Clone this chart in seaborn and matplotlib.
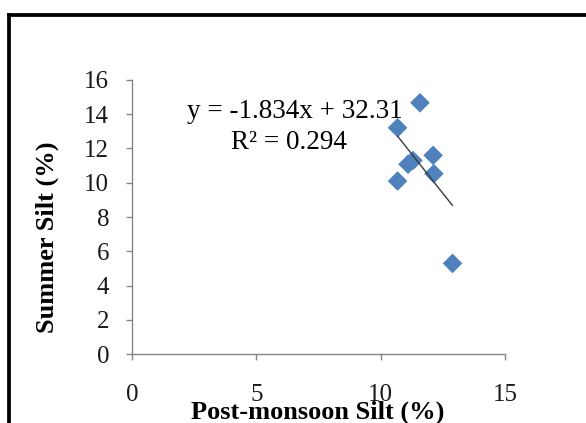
import matplotlib
matplotlib.use("Agg")
import matplotlib.pyplot as plt
from matplotlib.lines import Line2D
import seaborn as sns
import pandas as pd
import numpy as np

# Silt percentages per site
post_monsoon_silt = [11.58, 10.68, 11.30, 11.10, 12.11, 12.14, 10.68, 12.89]
summer_silt = [14.67, 13.21, 11.30, 11.08, 11.60, 10.53, 10.10, 5.29]

# Linear trend reported on the chart
slope = -1.834
intercept = 32.31
r_squared = 0.294

x_ticks = [0, 5, 10, 15]
y_ticks = [0, 2, 4, 6, 8, 10, 12, 14, 16]

sns.set_theme(style="white")
plt.rcParams["font.family"] = ["Liberation Serif", "DejaVu Serif"]

W, H, DPI = 586, 423, 100
fig = plt.figure(figsize=(W / DPI, H / DPI), dpi=DPI)
ax = fig.add_axes([132 / W, 1 - 354 / H, (505 - 132) / W, (354 - 80) / H])

df = pd.DataFrame({"post": post_monsoon_silt, "summer": summer_silt})
sns.scatterplot(data=df, x="post", y="summer", marker="D", s=100,
                color="#4F81BD", edgecolor="none", ax=ax, zorder=3)

xs = np.array([min(post_monsoon_silt), max(post_monsoon_silt)])
trend = pd.DataFrame({"x": xs, "y": slope * xs + intercept})
sns.lineplot(data=trend, x="x", y="y", color="#3a3a3a", linewidth=1.0,
             ax=ax, zorder=4)

ax.set_xlim(0, 15)
ax.set_ylim(0, 16)
ax.set_xticks(x_ticks)
ax.set_yticks(y_ticks)
ax.set_xticklabels([str(t) for t in x_ticks])
ax.set_yticklabels([str(t) for t in y_ticks])

grey = "#868686"
for side in ["top", "right"]:
    ax.spines[side].set_visible(False)
for side in ["left", "bottom"]:
    ax.spines[side].set_color(grey)
    ax.spines[side].set_linewidth(1.0)

ax.tick_params(axis="both", which="major", direction="out", length=4.5,
               width=1.0, color=grey, labelsize=18, labelcolor="#1a1a1a",
               bottom=True, left=True)
ax.tick_params(axis="x", pad=17)
ax.tick_params(axis="y", pad=12)

ax.set_xlabel("")
ax.set_ylabel("")
fig.text(318 / W, 1 - 412 / H, "Post-monsoon Silt (%)", ha="center",
         va="center", fontsize=19, fontweight="bold", color="black")
fig.text(47.5 / W, 1 - 237.5 / H, "Summer Silt (%)", ha="center",
         va="center", rotation=90, fontsize=19, fontweight="bold",
         color="black")

fig.text(295 / W, 1 - 112 / H, f"y = {slope}x + {intercept}",
         ha="center", va="center", fontsize=19.5, color="black")
fig.text(289 / W, 1 - 142 / H, f"R\u00b2 = {r_squared}",
         ha="center", va="center", fontsize=19.5, color="black")

# Outer chart-area border (top and left edges)
fig.lines.append(Line2D([9.5 / W, 1.02], [1 - 15 / H, 1 - 15 / H],
                        transform=fig.transFigure, color="black",
                        linewidth=2.7, solid_capstyle="projecting"))
fig.lines.append(Line2D([9.5 / W, 9.5 / W], [1 - 15 / H, -0.02],
                        transform=fig.transFigure, color="black",
                        linewidth=2.7, solid_capstyle="projecting"))

fig.savefig("out.png", dpi=DPI, facecolor="white")
